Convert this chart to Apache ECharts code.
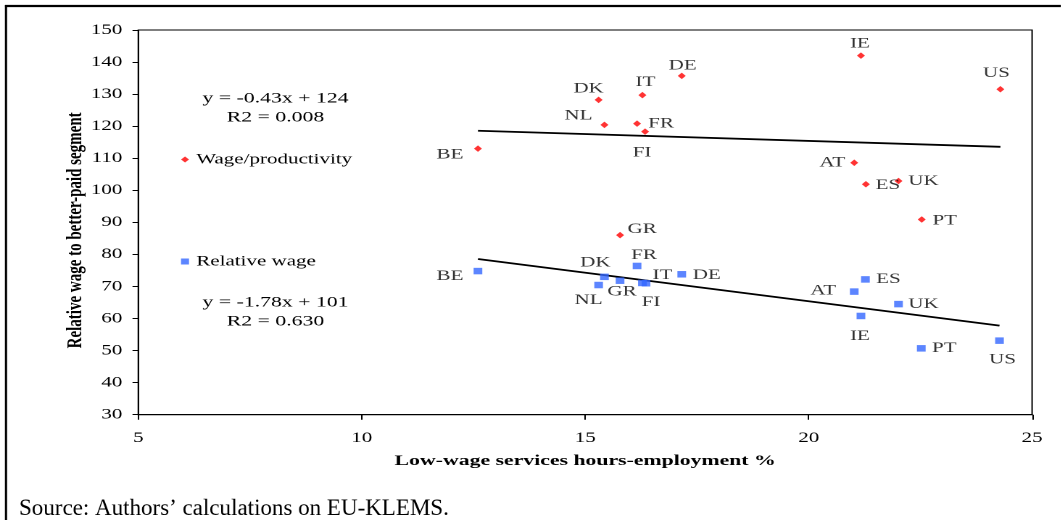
<!DOCTYPE html>
<html>
<head>
<meta charset="utf-8">
<script src="https://cdn.jsdelivr.net/npm/echarts@6/dist/echarts.min.js"></script>
<style>
  html, body { margin: 0; padding: 0; background: #fff; overflow: hidden; }
  #wrap { width: 1061px; height: 520px; position: relative; overflow: hidden; }
  #chart { position: absolute; left: 0; top: 0; height: 520px; transform-origin: 0 0; }
</style>
</head>
<body>
<div id="wrap"><div id="chart"></div></div>
<script>
// The figure is drawn narrow and widened horizontally, like the original exhibit.
const STRETCH = 1.45;
const PAGE_W = 1061;
const PAGE_H = 520;
const CHART_W = PAGE_W / STRETCH;

// ---- data ----
const countries   = ['BE', 'DK', 'IT', 'DE', 'NL', 'FR', 'FI', 'GR', 'IE', 'US', 'AT', 'ES', 'UK', 'PT'];
const wageProdX   = [12.6, 15.3, 16.28, 17.16, 15.43, 16.16, 16.34, 15.78, 21.17, 24.29, 21.02, 21.28, 22.01, 22.53];
const wageProdY   = [113.0, 128.2, 129.7, 135.7, 120.4, 120.8, 118.3, 86.0, 142.0, 131.5, 108.6, 101.9, 102.9, 90.9];
const relWageX    = [12.6, 15.43, 16.28, 17.16, 15.3, 16.16, 16.36, 15.78, 21.17, 24.27, 21.02, 21.27, 22.01, 22.52];
const relWageY    = [74.8, 73.0, 71.1, 73.8, 70.45, 76.4, 71.0, 71.8, 60.8, 53.1, 68.4, 72.2, 64.5, 50.7];

// linear trends: [wage/productivity, relative wage]
const trendSlope     = [-0.43, -1.78];
const trendIntercept = [124, 101];
const trendR2        = [0.008, 0.630];

const seriesNames = ['Wage/productivity', 'Relative wage'];
const xTicks = [5, 10, 15, 20, 25];
const yTicks = [30, 40, 50, 60, 70, 80, 90, 100, 110, 120, 130, 140, 150];

const xTitle = 'Low-wage services hours-employment %';
const yTitle = 'Relative wage to better-paid segment';
const sourceNote = 'Source: Authors\u2019 calculations on EU-KLEMS.';

// ---- label placement (page pixels from the marker centre) ----
const wageProdLabelOffset = {
  BE: [-28, 6], DK: [-10, -11], IT: [3, -13], DE: [1, -10], NL: [-26, -9], FR: [24, 0], FI: [-3, 21],
  GR: [22, -6], IE: [-1, -12], US: [-4, -16], AT: [-22, 0], ES: [22, 1], UK: [25, 0], PT: [23, 1]
};
const relWageLabelOffset = {
  BE: [-28, 5], DK: [-9, -14], IT: [20, -8], DE: [25, 1], NL: [-10, 15], FR: [7, -11], FI: [5, 19],
  GR: [2, 11], IE: [-1, 20], US: [3, 19], AT: [-31, -1], ES: [23, 0], UK: [25, 0], PT: [23, 0]
};

// ---- styling ----
const SERIF = '"Liberation Serif", "Times New Roman", Times, serif';
const FS = 14.5;
const RED = '#ff0000';
const BLUE = '#3366ff';

const el = document.getElementById('chart');
el.style.width = CHART_W + 'px';
el.style.transform = 'scaleX(' + STRETCH + ')';

function points(xs, ys, offsets) {
  return countries.map(function (c, i) {
    const off = offsets[c];
    return {
      name: c,
      value: [xs[i], ys[i]],
      label: { offset: [off[0] / STRETCH, off[1]] }
    };
  });
}

function trendLine(k, xs) {
  const lo = Math.min.apply(null, xs);
  const hi = Math.max.apply(null, xs);
  return [
    [lo, trendSlope[k] * lo + trendIntercept[k]],
    [hi, trendSlope[k] * hi + trendIntercept[k]]
  ];
}

function equationText(k) {
  const s = trendSlope[k];
  return 'y = ' + (s < 0 ? '-' : '') + Math.abs(s).toFixed(2) + 'x + ' + trendIntercept[k] +
    '\nR2 = ' + trendR2[k].toFixed(3);
}

const pointLabel = {
  show: true,
  position: 'inside',
  formatter: '{b}',
  color: '#000',
  fontFamily: SERIF,
  fontSize: FS
};

const chart = echarts.init(el, null, { renderer: 'canvas', devicePixelRatio: 2 });

chart.setOption({
  animation: false,
  backgroundColor: '#fff',
  grid: {
    left: 138.3 / STRETCH,
    right: (PAGE_W - 1031.7) / STRETCH,
    top: 30,
    bottom: PAGE_H - 414.7,
    show: true,
    borderColor: '#000',
    borderWidth: 1
  },
  xAxis: {
    type: 'value',
    min: xTicks[0],
    max: xTicks[xTicks.length - 1],
    interval: xTicks[1] - xTicks[0],
    splitLine: { show: false },
    axisLine: { show: true, onZero: false, lineStyle: { color: '#000', width: 1 } },
    axisTick: { show: true, length: 5, lineStyle: { color: '#000' } },
    axisLabel: { margin: 16, color: '#000', fontFamily: SERIF, fontSize: FS },
    name: xTitle,
    nameLocation: 'middle',
    nameGap: 39,
    nameTextStyle: { color: '#000', fontFamily: SERIF, fontSize: 15, fontWeight: 'bold' }
  },
  yAxis: {
    type: 'value',
    min: yTicks[0],
    max: yTicks[yTicks.length - 1],
    interval: yTicks[1] - yTicks[0],
    splitLine: { show: false },
    axisLine: { show: true, onZero: false, lineStyle: { color: '#000', width: 1 } },
    axisTick: { show: true, length: 4, lineStyle: { color: '#000' } },
    axisLabel: { margin: 11, color: '#000', fontFamily: SERIF, fontSize: FS },
    name: yTitle,
    nameLocation: 'middle',
    nameGap: 36,
    nameMoveOverlap: false,
    nameTextStyle: { color: '#000', fontFamily: SERIF, fontSize: 15, fontWeight: 'bold', padding: [0, 16, 0, 0] }
  },
  legend: {
    data: seriesNames,
    orient: 'vertical',
    left: 185 / STRETCH - 2.75,
    top: 151,
    padding: 0,
    itemGap: 85,
    itemWidth: 5.5,
    itemHeight: 6,
    textStyle: { color: '#000', fontFamily: SERIF, fontSize: FS, lineHeight: 17 }
  },
  series: [
    {
      name: seriesNames[0],
      type: 'scatter',
      symbol: 'diamond',
      symbolSize: [5.5, 6.5],
      itemStyle: { color: RED },
      label: pointLabel,
      data: points(wageProdX, wageProdY, wageProdLabelOffset),
      z: 3
    },
    {
      name: seriesNames[1],
      type: 'scatter',
      symbol: 'rect',
      symbolSize: [6, 6.5],
      itemStyle: { color: BLUE },
      label: pointLabel,
      data: points(relWageX, relWageY, relWageLabelOffset),
      z: 3
    },
    {
      name: 'trend-wp',
      type: 'line',
      showSymbol: false,
      symbol: 'none',
      silent: true,
      lineStyle: { color: '#000', width: 1.8 },
      data: trendLine(0, wageProdX),
      z: 2
    },
    {
      name: 'trend-rw',
      type: 'line',
      showSymbol: false,
      symbol: 'none',
      silent: true,
      lineStyle: { color: '#000', width: 1.8 },
      data: trendLine(1, relWageX),
      z: 2
    }
  ],
  graphic: [
    // page frame
    { type: 'line', shape: { x1: 5 / STRETCH, y1: 6, x2: CHART_W, y2: 6 }, style: { stroke: '#000', lineWidth: 2.2 } },
    { type: 'line', shape: { x1: 6 / STRETCH, y1: 5, x2: 6 / STRETCH, y2: PAGE_H }, style: { stroke: '#000', lineWidth: 2.2 / STRETCH } },
    // trend equations
    {
      type: 'text', x: 275.5 / STRETCH, y: 108,
      style: { text: equationText(0), fill: '#000', font: '15px ' + SERIF, textAlign: 'center', textVerticalAlign: 'middle', lineHeight: 19 }
    },
    {
      type: 'text', x: 275.5 / STRETCH, y: 312,
      style: { text: equationText(1), fill: '#000', font: '15px ' + SERIF, textAlign: 'center', textVerticalAlign: 'middle', lineHeight: 19 }
    },
    // source note, kept at its natural width
    {
      type: 'text', x: 19 / STRETCH, y: 509, scaleX: 1 / STRETCH,
      style: { text: sourceNote, fill: '#000', font: '23px ' + SERIF, textAlign: 'left', textVerticalAlign: 'middle' }
    }
  ]
});
</script>
</body>
</html>
